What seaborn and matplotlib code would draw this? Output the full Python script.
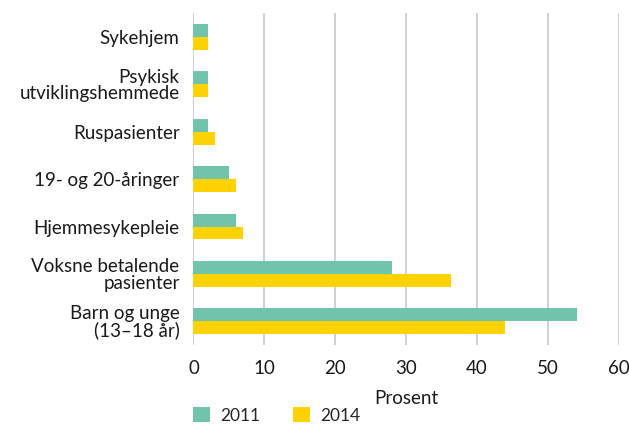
import pandas as pd
import matplotlib
matplotlib.use("Agg")
import matplotlib.pyplot as plt
import seaborn as sns
from matplotlib.patches import Patch

# data
categories = [
    "Sykehjem",
    "Psykisk\nutviklingshemmede",
    "Ruspasienter",
    "19- og 20-åringer",
    "Hjemmesykepleie",
    "Voksne betalende\npasienter",
    "Barn og unge\n(13–18 år)",
]
values_2011 = [2, 2, 2, 5, 6, 28, 54.1]
values_2014 = [2, 2, 3, 6, 7, 36.3, 44]
years = ["2011", "2014"]
colors = ["#72C3AB", "#FFD200"]

df = pd.DataFrame({
    "kategori": categories * 2,
    "prosent": values_2011 + values_2014,
    "år": [years[0]] * len(categories) + [years[1]] * len(categories),
})

sns.set_style("white")
plt.rcParams["font.family"] = ["Lato", "DejaVu Sans"]
fs = 13.5
txt = "#1a1a1a"

fig = plt.figure(figsize=(6.29, 4.26), dpi=100)
ax = fig.add_axes([0.3076, 0.19, 0.6764, 0.779])

sns.barplot(data=df, y="kategori", x="prosent", hue="år", order=categories,
            hue_order=years, palette=colors, width=0.545, orient="h",
            saturation=1, linewidth=0, ax=ax, legend=False)

ax.set_xlim(0, 60)
ax.set_xticks(range(0, 61, 10))
ax.xaxis.grid(True, color="#c8c8c8", linewidth=1.2)
ax.set_axisbelow(True)
for s in ax.spines.values():
    s.set_visible(False)
ax.tick_params(axis="both", length=0, labelsize=fs, colors=txt)
ax.tick_params(axis="x", pad=11)
ax.tick_params(axis="y", pad=10)
ax.set_ylabel("")
ax.set_xlabel("Prosent", fontsize=fs, color=txt, labelpad=9)
for lbl in ax.get_yticklabels():
    lbl.set_horizontalalignment("right")
    lbl.set_multialignment("right")
    lbl.set_linespacing(0.95)

# legend at the bottom left
handles = [Patch(facecolor=c, edgecolor="none") for c in colors]
fig.legend(handles, years, loc="lower left", bbox_to_anchor=(0.282, -0.031),
           ncol=2, frameon=False, fontsize=12.5, handlelength=1.0,
           handleheight=1.0, columnspacing=1.9, handletextpad=0.55)

fig.savefig("out.png", dpi=100)
